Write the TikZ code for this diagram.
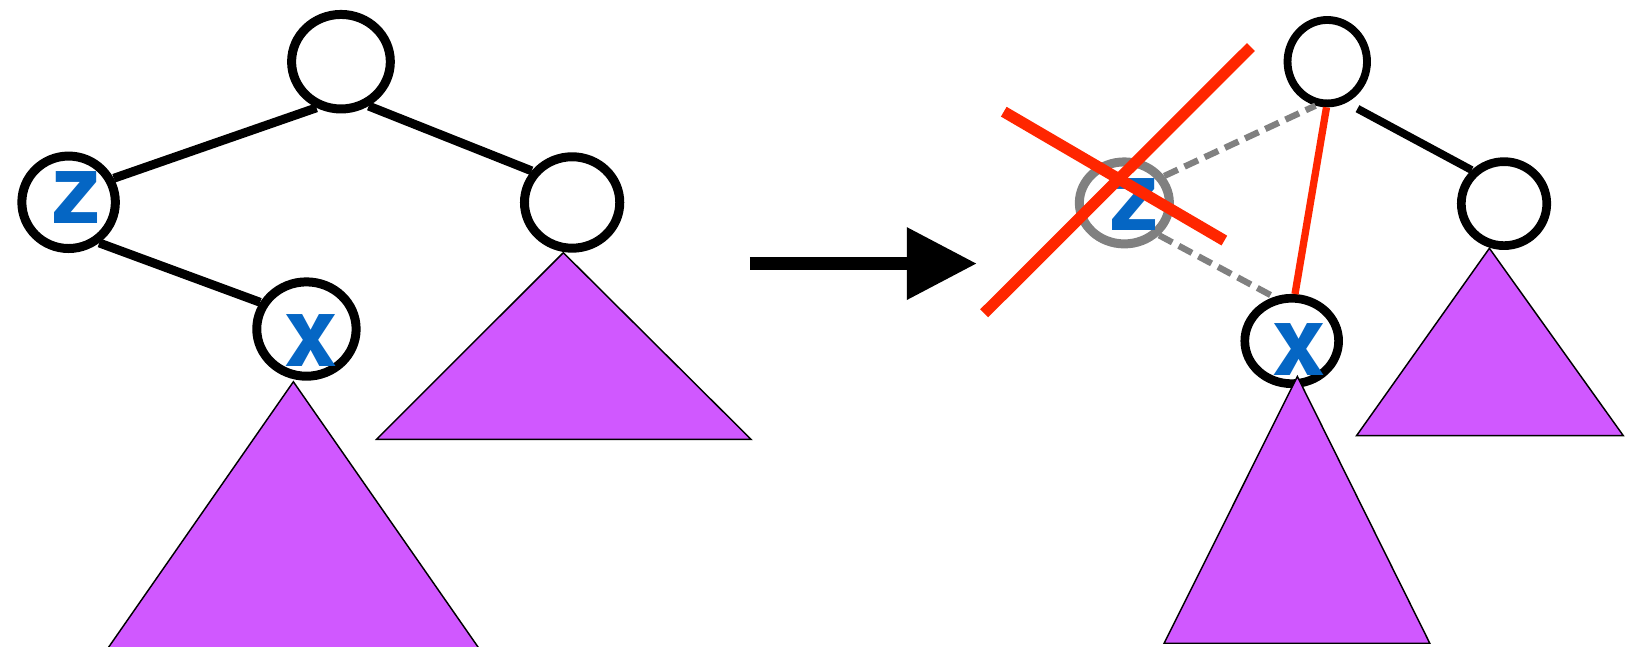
\documentclass[tikz,border=0pt]{standalone}
\usepackage{fontspec}
\setmainfont{TeX Gyre Heros}
\usetikzlibrary{positioning, arrows.meta, shapes.geometric}
\definecolor{treepurple}{RGB}{208,88,255}
\definecolor{keyblue}{RGB}{5,102,196}
\definecolor{cutred}{RGB}{255,38,0}
\definecolor{cutgrey}{RGB}{128,128,128}

\begin{document}
\begin{tikzpicture}[x=1pt, y=-1pt,
        treenode/.style={ellipse, draw, fill=white, line width=8.6pt, inner sep=0pt},
        oldnode/.style={treenode, draw=cutgrey},
        letter/.style={font=\fontsize{92pt}{92pt}\selectfont\bfseries, text=keyblue, inner sep=0pt},
        treeedge/.style={line width=8.5pt},
        oldedge/.style={draw=cutgrey, line width=6pt, dash pattern=on 14.3pt off 7pt},
        newedge/.style={draw=cutred, line width=7pt},
        subtree/.style={draw=black, fill=treepurple, line width=1.4pt},
        crossline/.style={draw=cutred, line width=10.8pt}
    ]
        \useasboundingbox (0,0) rectangle (1568,618);

        % Tree before deletion (left)
        \node[treenode, minimum width=94.4pt, minimum height=90.4pt] (rootL) at (326,59) {};
        \node[treenode, minimum width=89.4pt, minimum height=88.4pt] (zL) at (65.6,193.4) {};
        \node[treenode, minimum width=91.1pt, minimum height=87.4pt] (rightL) at (547,193.6) {};
        \node[treenode, minimum width=95pt, minimum height=90.2pt] (xL) at (293,314.6) {};
        \node[letter] at ([xshift=7.4pt, yshift=4.4pt]zL) {z};
        \node[letter] at ([xshift=4.3pt, yshift=-11.4pt]xL) {x};

        \draw[treeedge] (rootL.242) -- (zL.28);
        \draw[treeedge] (rootL.302) -- (rightL.142);
        \draw[treeedge] (zL.307) -- (xL.150);

        % Subtrees (left)
        \draw[subtree] (280.5,365) -- (103,620) -- (458,620) -- cycle;
        \draw[subtree] (538.6,241.6) -- (360,420) -- (718,420) -- cycle;

        % Arrow
        \coordinate (arrowstart) at (717,252);
        \coordinate (arrowend) at (934,252);
        \draw[line width=12.7pt, -{Triangle[length=67pt, width=66pt]}] (arrowstart) -- (arrowend);

        % Tree after deletion (right)
        \node[treenode, line width=7.5pt, minimum width=76pt, minimum height=79.8pt] (rootR) at (1269,59) {};
        \node[oldnode, minimum width=86.1pt, minimum height=78.4pt] (zR) at (1075,194) {};
        \node[treenode, line width=8.3pt, minimum width=81.7pt, minimum height=80.3pt] (rightR) at (1438,194.7) {};
        \node[treenode, line width=8.3pt, minimum width=89.7pt, minimum height=81.7pt] (xR) at (1235,326) {};
        \node[letter] at ([xshift=10pt, yshift=-2pt]zR) {z};
        \node[letter] at ([xshift=7pt, yshift=-8.6pt]xR) {x};

        \draw[oldedge] (zR.34) -- (rootR.255);
        \draw[oldedge] (zR.317) -- (xR.112);
        \draw[newedge] (rootR.269) -- (xR.86);
        \draw[treeedge, line width=7.5pt, shorten <=12pt] (rootR.295) -- (rightR.134);

        % Subtrees (right)
        \draw[subtree] (1240.4,360) -- (1113,615) -- (1367,615) -- cycle;
        \draw[subtree] (1424,237.4) -- (1297,416.5) -- (1552,416.5) -- cycle;

        % Red cross over z
        \coordinate (crossA1) at (1196,45);
        \coordinate (crossA2) at (941,299.5);
        \coordinate (crossB1) at (959.7,106.8);
        \coordinate (crossB2) at (1170.6,230);
        \draw[crossline] (crossA1) -- (crossA2);
        \draw[crossline] (crossB1) -- (crossB2);
    \end{tikzpicture}
\end{document}
